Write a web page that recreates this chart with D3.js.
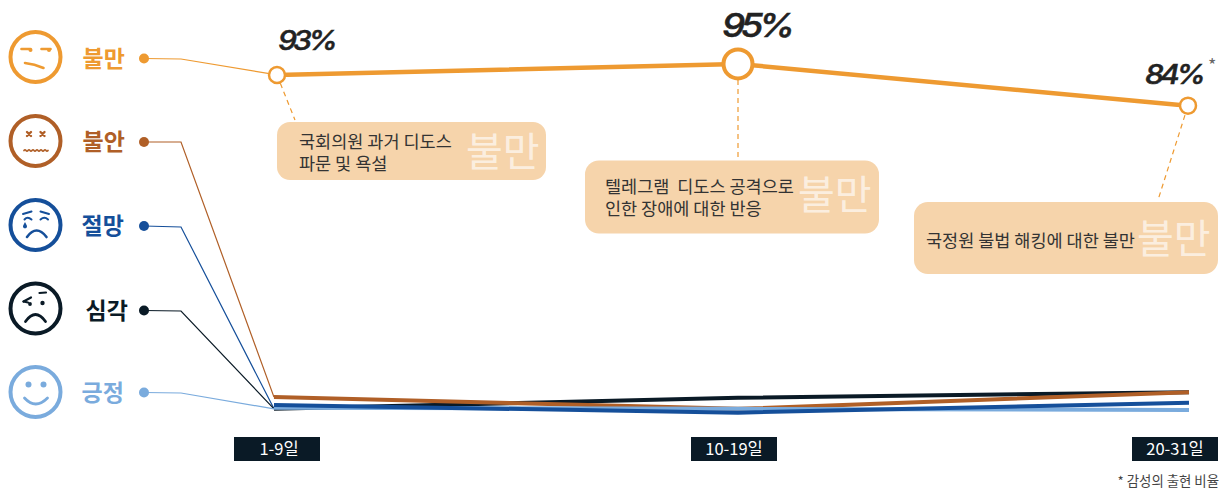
<!DOCTYPE html>
<html>
<head>
<meta charset="utf-8">
<script src="https://d3js.org/d3.v7.min.js"></script>
<style>
  html, body { margin: 0; padding: 0; background: #fff; }
  svg { display: block; }
  text { font-family: "Noto Sans CJK KR", sans-serif; }
</style>
</head>
<body>
<div id="vis"></div>
<script>
// data
var periods = ['1-9일', '10-19일', '20-31일'];
var emotions = ['심각', '불안', '긍정', '절망', '불만'];
var positive = [4.3, 4.0, 3.7];
var serious = [4.0, 6.9, 8.4];
var despair = [5.0, 3.0, 5.6];
var anxiety = [7.1, 4.0, 8.4];
var discontent = [92.1, 95, 84];
var percentLabels = ['93%', '95%', '84%'];
var noteLines = [
  ['국회의원 과거 디도스', '파문 및 욕설'],
  ['텔레그램  디도스 공격으로', '인한 장애에 대한 반응'],
  ['국정원 불법 해킹에 대한 불만']
];

var width = 1227;
var height = 491;

var colors = {
  '불만': '#ee9a31',
  '불안': '#b05f27',
  '절망': '#154f9a',
  '심각': '#0a1a26',
  '긍정': '#7aabdd'
};
var seriesValues = {
  '긍정': positive,
  '심각': serious,
  '절망': despair,
  '불안': anxiety,
  '불만': discontent
};

// scales
var y = d3.scaleLinear().domain([0, 100]).range([424, 45]);
var xTop = d3.scaleLinear().domain([0, 1, 2]).range([277, 738, 1188]);
var xLow = d3.scaleLinear().domain([0, 1, 2]).range([274, 738, 1189]);

var svg = d3.select('#vis').append('svg')
    .attr('width', width)
    .attr('height', height)
    .attr('viewBox', '0 0 ' + width + ' ' + height);

// legend rows
var legendRows = [
  { name: '불만', face: 57, dot: 58.5, elbow: 59, labelX: 82.5 },
  { name: '불안', face: 141, dot: 142, elbow: 142, labelX: 82.5 },
  { name: '절망', face: 225, dot: 226, elbow: 227, labelX: 81.5 },
  { name: '심각', face: 308.5, dot: 310.5, elbow: 311, labelX: 85.5 },
  { name: '긍정', face: 392, dot: 392.5, elbow: 393, labelX: 81.5 }
];

// leader lines from the legend into the first point of each series
legendRows.forEach(function (r) {
  var isTop = r.name === '불만';
  var v = seriesValues[r.name][0];
  var endX = isTop ? xTop(0) : xLow(0);
  var endY = (isTop || r.name === '불안') ? y(v) : y(serious[0]);
  svg.append('path')
      .attr('d', 'M144,' + r.dot + 'L181,' + r.elbow + 'L' + endX + ',' + endY)
      .attr('fill', 'none')
      .attr('stroke', colors[r.name])
      .attr('stroke-width', 1.2);
  svg.append('circle')
      .attr('cx', 144)
      .attr('cy', r.dot)
      .attr('r', 5)
      .attr('fill', colors[r.name]);
  svg.append('text')
      .attr('x', r.labelX)
      .attr('y', r.dot + 8)
      .attr('font-size', 23)
      .attr('font-weight', 700)
      .attr('fill', colors[r.name])
      .text(r.name);
  drawFace(r.name, 35.5, r.face);
});

// low lines
var lowLine = d3.line()
    .x(function (d, i) { return xLow(i); })
    .y(function (d) { return y(d); });

emotions.slice(0, 4).forEach(function (name) {
  svg.append('path')
      .attr('d', lowLine(seriesValues[name]))
      .attr('fill', 'none')
      .attr('stroke', colors[name])
      .attr('stroke-width', 4);
});

// the big orange line
var topLine = d3.line()
    .x(function (d, i) { return xTop(i); })
    .y(function (d) { return y(d); });

svg.append('path')
    .attr('d', topLine(discontent))
    .attr('fill', 'none')
    .attr('stroke', colors['불만'])
    .attr('stroke-width', 4.5);

// note boxes and their dashed leaders
var boxes = [
  { x: 277, y: 122, w: 269, h: 58, r: 13, textX: 299, textY: [148, 170], bigX: 466, bigY: 166, from: 9, toX: 295 },
  { x: 585, y: 160.5, w: 294, h: 73, r: 14, textX: 605, textY: [193, 215], bigX: 798, bigY: 209, from: 16, toX: 738 },
  { x: 914, y: 202, w: 304, h: 72, r: 14, textX: 926, textY: [247], bigX: 1137, bigY: 253, from: 10, toX: 1158 }
];

boxes.forEach(function (b, i) {
  var px = xTop(i);
  var py = y(discontent[i]);
  var dx = b.toX - px;
  var dy = b.y - py - 2;
  var len = Math.sqrt(dx * dx + dy * dy);
  svg.append('line')
      .attr('x1', px + dx / len * b.from)
      .attr('y1', py + dy / len * b.from)
      .attr('x2', b.toX)
      .attr('y2', b.y - 2)
      .attr('stroke', colors['불만'])
      .attr('stroke-width', 1.2)
      .attr('stroke-dasharray', '5,4');

  svg.append('rect')
      .attr('x', b.x)
      .attr('y', b.y)
      .attr('width', b.w)
      .attr('height', b.h)
      .attr('rx', b.r)
      .attr('fill', '#f6d4ab');

  var note = svg.append('text')
      .attr('font-size', 17.5)
      .style('white-space', 'pre')
      .attr('fill', '#333');
  noteLines[i].forEach(function (t, j) {
    note.append('tspan')
        .attr('x', b.textX)
        .attr('y', b.textY[j])
        .text(t);
  });

  svg.append('text')
      .attr('x', b.bigX)
      .attr('y', b.bigY)
      .attr('font-size', 40)
      .attr('font-weight', 400)
      .attr('fill', '#fff')
      .attr('fill-opacity', 0.65)
      .text('불만');
});

// point markers
var markerR = [8, 14.5, 8];
var markerW = [2.5, 4, 2.5];
discontent.forEach(function (d, i) {
  svg.append('circle')
      .attr('cx', xTop(i))
      .attr('cy', y(d))
      .attr('r', markerR[i])
      .attr('fill', '#fff')
      .attr('stroke', colors['불만'])
      .attr('stroke-width', markerW[i]);
});

// percent labels
var labelPos = [
  { x: 278, y: 49.5, size: 27 },
  { x: 722, y: 36.5, size: 33 },
  { x: 1145, y: 83.5, size: 27 }
];
percentLabels.forEach(function (t, i) {
  var p = labelPos[i];
  svg.append('text')
      .attr('transform', 'translate(' + p.x + ',' + p.y + ') scale(1.12,1)')
      .attr('font-size', p.size)
      .attr('letter-spacing', -p.size * 0.13)
      .attr('font-style', 'italic')
      .attr('font-weight', 500)
      .attr('stroke', '#222')
      .attr('stroke-width', 0.5)
      .style('font-family', 'Inter, "Liberation Sans", sans-serif')
      .attr('fill', '#222')
      .text(t);
});
svg.append('text')
    .attr('x', 1208)
    .attr('y', 72)
    .attr('font-size', 18)
    .attr('fill', '#666')
    .text('*');

// period tags
var tagW = [86, 86, 86];
var tagX = [234, 691, 1132];
var tagShift = [2, 0, 0];
periods.forEach(function (t, i) {
  svg.append('rect')
      .attr('x', tagX[i])
      .attr('y', 437)
      .attr('width', tagW[i])
      .attr('height', 24)
      .attr('fill', '#0a1a26');
  svg.append('text')
      .attr('x', tagX[i] + tagW[i] / 2 + tagShift[i])
      .attr('y', 454.5)
      .attr('text-anchor', 'middle')
      .attr('font-size', 16.5)
      .attr('font-weight', 400)
      .attr('fill', '#fff')
      .text(t);
});

svg.append('text')
    .attr('x', 1219)
    .attr('y', 486)
    .attr('text-anchor', 'end')
    .attr('font-size', 13.4)
    .attr('fill', '#444')
    .text('* 감성의 출현 비율');

// emoticons
function drawFace(name, cx, cy) {
  var c = colors[name];
  var g = svg.append('g').attr('transform', 'translate(' + cx + ',' + cy + ')');
  g.append('circle')
      .attr('r', 25)
      .attr('fill', 'none')
      .attr('stroke', c)
      .attr('stroke-width', 4);

  function stroke(d, w) {
    g.append('path')
        .attr('d', d)
        .attr('fill', 'none')
        .attr('stroke', c)
        .attr('stroke-width', w || 2.6)
        .attr('stroke-linecap', 'round');
  }
  function dot(x, yy, r) {
    g.append('circle').attr('cx', x).attr('cy', yy).attr('r', r).attr('fill', c);
  }

  if (name === '불만') {
    stroke('M-14,-8L-5,-8');
    dot(-5, -7, 2);
    stroke('M6,-8L15,-8');
    dot(13.5, -7, 2);
    stroke('M-10.5,6Q-1,7 8,11');
  } else if (name === '불안') {
    stroke('M-8.5,-9L-4.5,-5M-4.5,-9L-8.5,-5', 2.4);
    stroke('M5,-9L9,-5M9,-9L5,-5', 2.4);
    stroke('M-11.5,9.5q1,-1.5 2,0t2,0t2,0t2,0t2,0t2,0t2,0t2,0t2,0t2,0t2,0t2,0', 1.7);
  } else if (name === '절망') {
    stroke('M-12.5,-11L-4,-13.5', 2);
    stroke('M5,-13.5L13.5,-11', 2);
    stroke('M-11,-5.5Q-8,-9 -4,-5.5', 2);
    stroke('M5,-5.5Q9,-9 12.5,-5.5', 2);
    g.append('path')
        .attr('d', 'M-10.5,-3L-8.7,0.5A2,2 0 1 1 -12.3,0.5Z')
        .attr('fill', c);
    stroke('M-8.5,12Q1,-1 11,12');
  } else if (name === '심각') {
    stroke('M-12,-7L-4.5,-11', 2.2);
    stroke('M-12,-7L-7.5,-6', 2.2);
    dot(-5.5, -4.5, 1.9);
    stroke('M4,-15.5L10.5,-16', 2.2);
    dot(7, -5.5, 2.2);
    stroke('M-10,13Q0,-1 10,13', 2.8);
  } else {
    dot(-7, -7.5, 3);
    dot(8, -7.5, 3);
    stroke('M-11,6Q0,18 12,6', 2.8);
  }
}
</script>
</body>
</html>
